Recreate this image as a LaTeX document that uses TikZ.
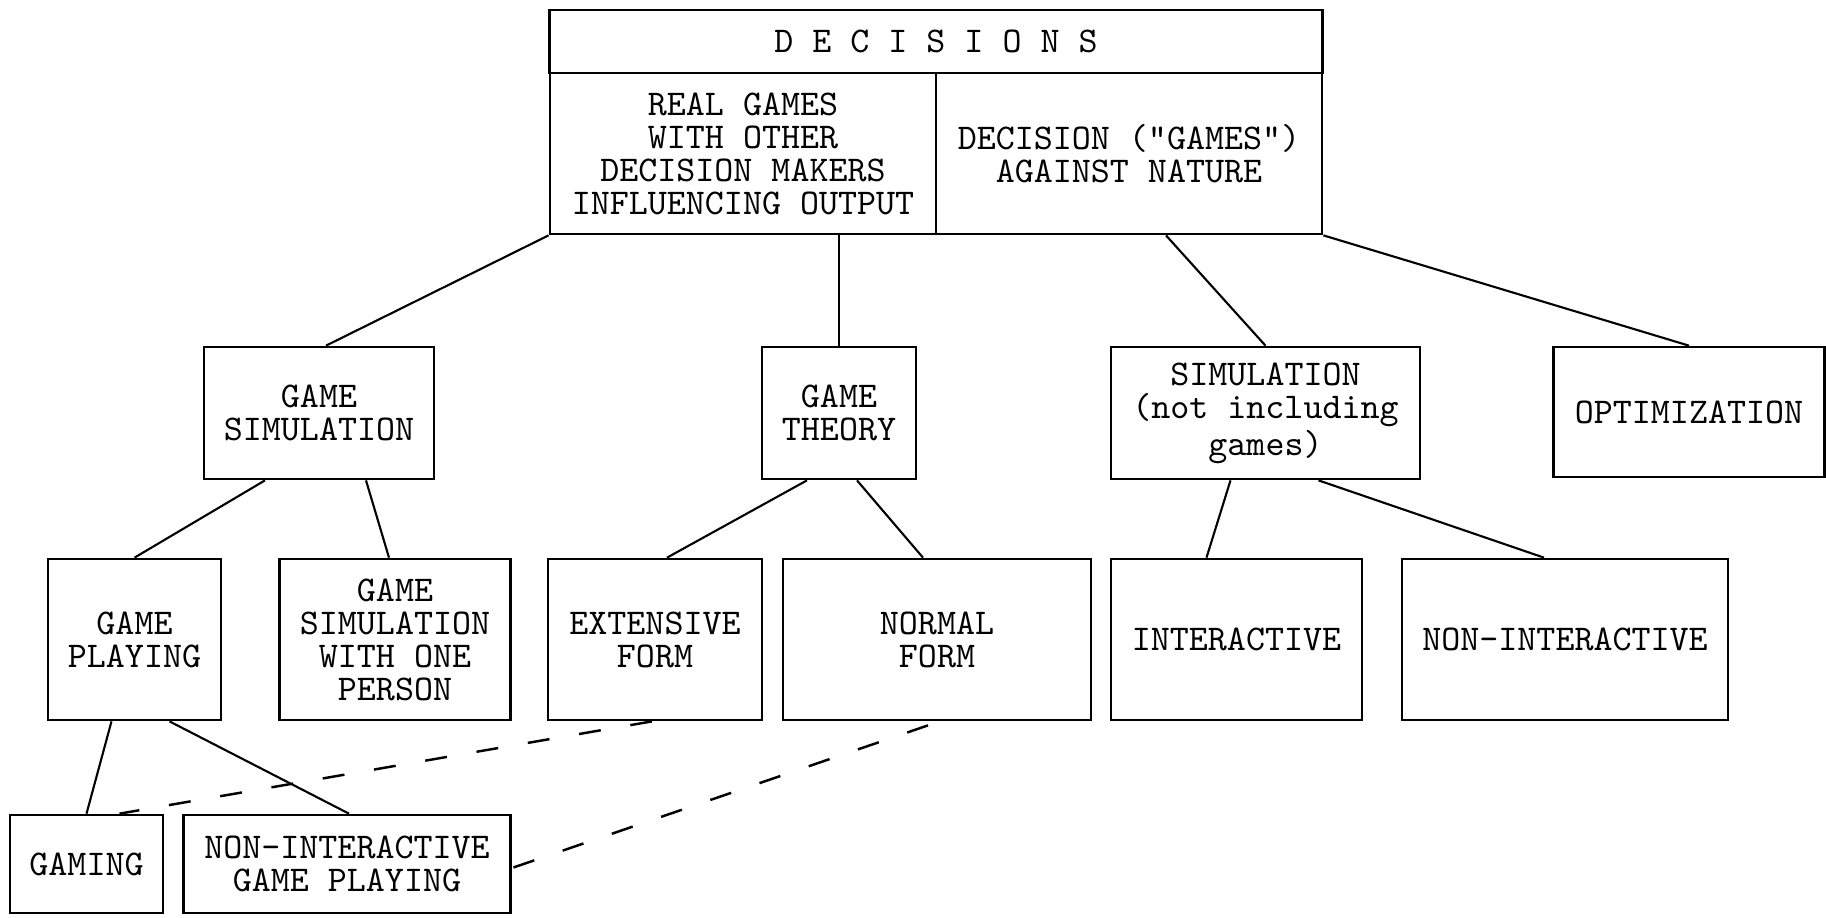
\documentclass[tikz,border=0pt]{standalone}
\usepackage{fontspec}
\usetikzlibrary{calc}
\tikzset{
  bloque/.style={draw, line width=0.75pt, align=center, inner sep=2pt, font=\ttfamily\fontsize{10.3}{9.4}\selectfont},
  ln/.style={line width=0.6pt},
  lnpt/.style={line width=0.7pt, dash pattern=on 2.2mm off 3mm},
}

\begin{document}
\begin{tikzpicture}[x=0.01cm, y=-0.01cm]
  \useasboundingbox (0,0) rectangle (1826,917);
  % decisions table
  \node[bloque, minimum width=7.72cm, minimum height=0.63cm] (dec) at (936,41.5) {D E C I S I O N S};
  \node[bloque, minimum width=3.86cm, minimum height=1.61cm] (real) at (743,153.5) {REAL GAMES\\WITH OTHER\\DECISION MAKERS\\INFLUENCING OUTPUT};
  \node[bloque, minimum width=3.86cm, minimum height=1.61cm] (nat) at (1129,153.5) {DECISION ("GAMES")\\AGAINST NATURE};
  % second row
  \node[bloque, minimum width=2.30cm, minimum height=1.32cm] (gsim) at (319,413) {GAME\\SIMULATION};
  \node[bloque, minimum width=1.54cm, minimum height=1.32cm] (gthe) at (839,413) {GAME\\THEORY};
  \node[bloque, minimum width=3.09cm, minimum height=1.32cm] (sim) at (1265.5,413) {SIMULATION\\(not including\\games)};
  \node[bloque, minimum width=2.71cm, minimum height=1.30cm] (opt) at (1689,412) {OPTIMIZATION};
  % third row
  \node[bloque, minimum width=1.73cm, minimum height=1.61cm] (gplay) at (134.5,639.5) {GAME\\PLAYING};
  \node[bloque, minimum width=2.31cm, minimum height=1.61cm] (gone) at (395,639.5) {GAME\\SIMULATION\\WITH ONE\\PERSON};
  \node[bloque, minimum width=2.14cm, minimum height=1.61cm] (ext) at (655,639.5) {EXTENSIVE\\FORM};
  \node[bloque, minimum width=3.08cm, minimum height=1.61cm] (norm) at (937,639.5) {NORMAL\\FORM};
  \node[bloque, minimum width=2.51cm, minimum height=1.61cm] (inter) at (1236.5,639.5) {INTERACTIVE};
  \node[bloque, minimum width=3.26cm, minimum height=1.61cm] (nonint) at (1565,639.5) {NON-INTERACTIVE};
  % fourth row
  \node[bloque, minimum width=1.53cm, minimum height=0.98cm] (gaming) at (86.5,864) {GAMING};
  \node[bloque, minimum width=3.27cm, minimum height=0.98cm] (nigp) at (347,864) {NON-INTERACTIVE\\GAME PLAYING};
  % links
  \draw[ln] (real.south west) -- ($(gsim.north)+(7,0)$);
  \draw[ln] (gthe.north |- real.south) -- (gthe.north);
  \draw[ln] ($(nat.south)+(37,0)$) -- (sim.north);
  \draw[ln] (nat.south east) -- (opt.north);
  \draw[ln] ($(gsim.south)+(-54,0)$) -- (gplay.north);
  \draw[ln] ($(gsim.south)+(47,0)$) -- ($(gone.north)+(-6,0)$);
  \draw[ln] ($(gthe.south)+(-32,0)$) -- ($(ext.north)+(12,0)$);
  \draw[ln] ($(gthe.south)+(18,0)$) -- ($(norm.north)+(-14,0)$);
  \draw[ln] ($(sim.south)+(-35,0)$) -- ($(inter.north)+(-30,0)$);
  \draw[ln] ($(sim.south)+(53,0)$) -- ($(nonint.north)+(-21,0)$);
  \draw[ln] ($(gplay.south)+(-23,0)$) -- (gaming.north);
  \draw[ln] ($(gplay.south)+(35,0)$) -- ($(nigp.north)+(2,0)$);
  \draw[lnpt] ($(ext.south)+(-3,0)$) -- ($(gaming.north)+(33,0)$);
  \draw[lnpt] ($(norm.south)+(-9,4)$) -- ($(nigp.east)+(0,4)$);
\end{tikzpicture}
\end{document}
